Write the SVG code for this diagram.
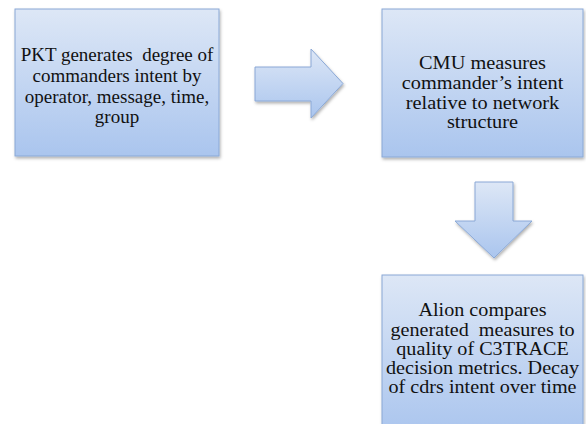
<svg xmlns="http://www.w3.org/2000/svg" width="586" height="424" viewBox="0 0 586 424">
<defs>
<linearGradient id="g" x1="0" y1="0" x2="0" y2="1">
<stop offset="0" stop-color="#dde7f6"/>
<stop offset="1" stop-color="#aac5ee"/>
</linearGradient>
<filter id="sh" x="-10%" y="-10%" width="120%" height="120%">
<feDropShadow dx="1" dy="2" stdDeviation="1.5" flood-color="#000" flood-opacity="0.3"/>
</filter>
</defs>
<style>
.box{fill:url(#g);stroke:#8aa8d6;stroke-width:1;filter:url(#sh)}
.arr{fill:url(#g);stroke:#8aa8d6;stroke-width:1;filter:url(#sh)}
text{font-family:"Liberation Serif","DejaVu Serif",serif;font-size:19px;fill:#111;text-anchor:middle;white-space:pre}
.big{font-size:18px}
</style>
<g id="connectors">
<path class="arr" d="M255,67 H311 V49 L343,83.5 L311,118 V101 H255 Z"/>
<path class="arr" d="M475,182 H513 V221 H532 L494,258 L455,221 H475 Z"/>
</g>
<g id="node-pkt">
<rect class="box" x="15" y="9" width="204" height="147"/>
<text x="117" y="61" xml:space="preserve">PKT generates  degree of</text>
<text x="117" y="82">commanders intent by</text>
<text x="117" y="103">operator, message, time,</text>
<text x="117" y="123">group</text>
</g>
<g id="node-cmu">
<rect class="box" x="382" y="9" width="201" height="148"/>
<g transform="translate(482.5,0) scale(1.13,1)">
<text class="big" x="0" y="69">CMU measures</text>
<text class="big" x="0" y="89">commander’s intent</text>
<text class="big" x="0" y="109">relative to network</text>
<text class="big" x="0" y="128.5">structure</text>
</g>
</g>
<g id="node-alion">
<rect class="box" x="382" y="275" width="201" height="160"/>
<g transform="translate(482.5,0) scale(1.12,1)">
<text class="big" x="0" y="316.5">Alion compares</text>
<text class="big" x="0" y="335.75" xml:space="preserve">generated  measures to</text>
<text class="big" x="0" y="355">quality of C3TRACE</text>
<text class="big" x="0" y="374.25">decision metrics. Decay</text>
<text class="big" x="0" y="393.5">of cdrs intent over time</text>
</g>
</g>
</svg>
